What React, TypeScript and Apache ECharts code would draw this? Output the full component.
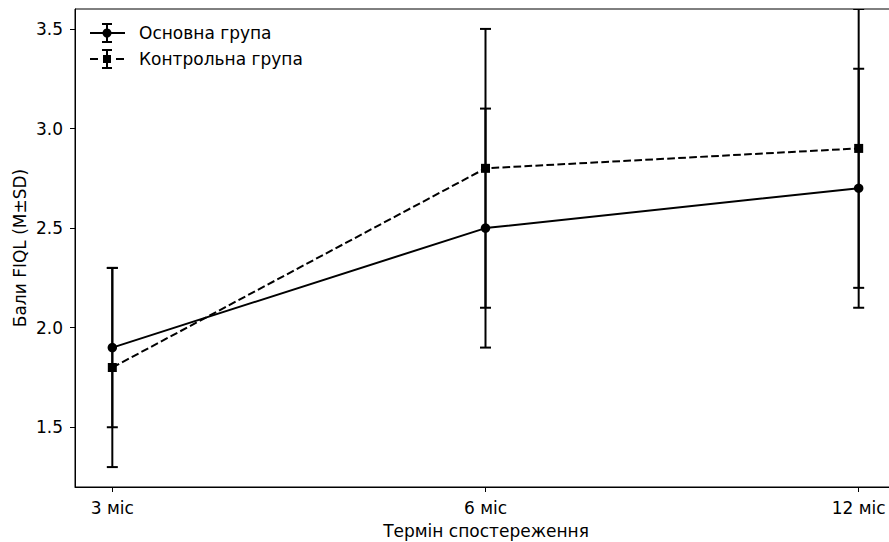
import React, { useEffect, useRef } from "react";
import * as echarts from "echarts";

// Observation periods and FIQL scores (mean ± SD) for both groups
const periods = ["3 міс", "6 міс", "12 міс"];
const mainMean = [1.9, 2.5, 2.7];
const mainSd = [0.4, 0.6, 0.6];
const controlMean = [1.8, 2.8, 2.9];
const controlSd = [0.5, 0.7, 0.7];
const yTicks = [1.5, 2.0, 2.5, 3.0, 3.5];
const seriesNames = ["Основна група", "Контрольна група"];

const FONT = "DejaVu Sans";
const FS = 17;
const DASH = [7.7, 3.3];

function errorBarSeries(means: number[], sds: number[]) {
  const data = means.map((m, i) => [i, m - sds[i], m + sds[i]]);
  return {
    type: "custom",
    silent: true,
    clip: true,
    z: 2,
    data,
    encode: { x: 0, y: [1, 2] },
    renderItem: (_params: any, api: any) => {
      const x = api.value(0);
      const lo = api.coord([x, api.value(1)]);
      const hi = api.coord([x, api.value(2)]);
      const cap = 5.5;
      const style = { stroke: "#000", lineWidth: 2 };
      return {
        type: "group",
        children: [
          { type: "line", shape: { x1: lo[0], y1: lo[1], x2: hi[0], y2: hi[1] }, style },
          { type: "line", shape: { x1: lo[0] - cap, y1: lo[1], x2: lo[0] + cap, y2: lo[1] }, style },
          { type: "line", shape: { x1: hi[0] - cap, y1: hi[1], x2: hi[0] + cap, y2: hi[1] }, style },
        ],
      };
    },
  };
}

function legendItem(y: number, label: string, dashed: boolean, marker: "circle" | "rect") {
  const st = { stroke: "#000", lineWidth: 2 };
  const children: any[] = [];
  if (dashed) {
    children.push({ type: "line", shape: { x1: 90, y1: y, x2: 98, y2: y }, style: st });
    children.push({ type: "line", shape: { x1: 116, y1: y, x2: 124, y2: y }, style: st });
  } else {
    children.push({ type: "line", shape: { x1: 90, y1: y, x2: 125, y2: y }, style: st });
  }
  children.push({ type: "line", shape: { x1: 107, y1: y - 9, x2: 107, y2: y + 9 }, style: st });
  children.push({ type: "line", shape: { x1: 102, y1: y - 9, x2: 112, y2: y - 9 }, style: st });
  children.push({ type: "line", shape: { x1: 102, y1: y + 9, x2: 112, y2: y + 9 }, style: st });
  if (marker === "circle") {
    children.push({ type: "circle", shape: { cx: 107, cy: y, r: 4.5 }, style: { fill: "#000" } });
  } else {
    children.push({ type: "rect", shape: { x: 103, y: y - 4, width: 8, height: 8 }, style: { fill: "#000" } });
  }
  children.push({
    type: "text",
    x: 139,
    y,
    style: { text: label, fill: "#000", font: `${FS}px "${FONT}"`, textVerticalAlign: "middle" },
  });
  return { type: "group", children };
}

export default function App() {
  const ref = useRef<HTMLDivElement>(null);

  useEffect(() => {
    if (!ref.current) return;
    const chart = echarts.init(ref.current, null, { renderer: "svg" });
    const toPoints = (arr: number[]) => arr.map((v, i) => [i, v]);

    chart.setOption({
      animation: false,
      backgroundColor: "#fff",
      textStyle: { fontFamily: FONT },
      grid: {
        left: 75,
        top: 9,
        right: 0,
        bottom: 55,
        show: true,
        borderColor: "#000",
        borderWidth: 1,
        backgroundColor: "transparent",
      },
      xAxis: {
        type: "value",
        min: -0.1,
        max: 2.1,
        splitLine: { show: false },
        axisLine: { show: true, onZero: false, lineStyle: { color: "#000", width: 1 } },
        axisTick: { show: true, length: 5, customValues: [0, 1, 2], lineStyle: { color: "#000", width: 1 } },
        axisLabel: {
          customValues: [0, 1, 2],
          margin: 12,
          color: "#000",
          fontSize: FS,
          fontFamily: FONT,
          formatter: (v: number) => periods[Math.round(v)] ?? "",
        },
      },
      yAxis: {
        type: "value",
        min: 1.2,
        max: 3.6,
        splitLine: { show: false },
        axisLine: { show: true, onZero: false, lineStyle: { color: "#000", width: 1 } },
        axisTick: { show: true, length: 5, customValues: yTicks, lineStyle: { color: "#000", width: 1 } },
        axisLabel: {
          customValues: yTicks,
          margin: 12,
          color: "#000",
          fontSize: FS,
          fontFamily: FONT,
          formatter: (v: number) => v.toFixed(1),
        },
      },
      series: [
        errorBarSeries(mainMean, mainSd),
        errorBarSeries(controlMean, controlSd),
        {
          name: seriesNames[0],
          type: "line",
          z: 3,
          data: toPoints(mainMean),
          symbol: "circle",
          symbolSize: 9.5,
          itemStyle: { color: "#000" },
          lineStyle: { color: "#000", width: 2 },
        },
        {
          name: seriesNames[1],
          type: "line",
          z: 3,
          data: toPoints(controlMean),
          symbol: "rect",
          symbolSize: 9,
          itemStyle: { color: "#000" },
          lineStyle: { color: "#000", width: 2, type: DASH },
        },
      ],
      graphic: [
        legendItem(33, seriesNames[0], false, "circle"),
        legendItem(59, seriesNames[1], true, "rect"),
        {
          type: "text",
          x: 19.5,
          y: 248,
          rotation: Math.PI / 2,
          style: {
            text: "Бали FIQL (M±SD)",
            fill: "#000",
            font: `${FS}px "${FONT}"`,
            textAlign: "center",
            textVerticalAlign: "middle",
          },
        },
        {
          type: "text",
          x: 486,
          y: 531,
          style: {
            text: "Термін спостереження",
            fill: "#000",
            font: `${FS}px "${FONT}"`,
            textAlign: "center",
            textVerticalAlign: "middle",
          },
        },
      ],
    });

    return () => chart.dispose();
  }, []);

  // The plot area runs a few pixels past the right edge of the visible frame
  return (
    <div style={{ position: "absolute", left: 0, top: 0, width: 889, height: 542, overflow: "hidden" }}>
      <div ref={ref} style={{ width: 896, height: 542 }} />
    </div>
  );
}
